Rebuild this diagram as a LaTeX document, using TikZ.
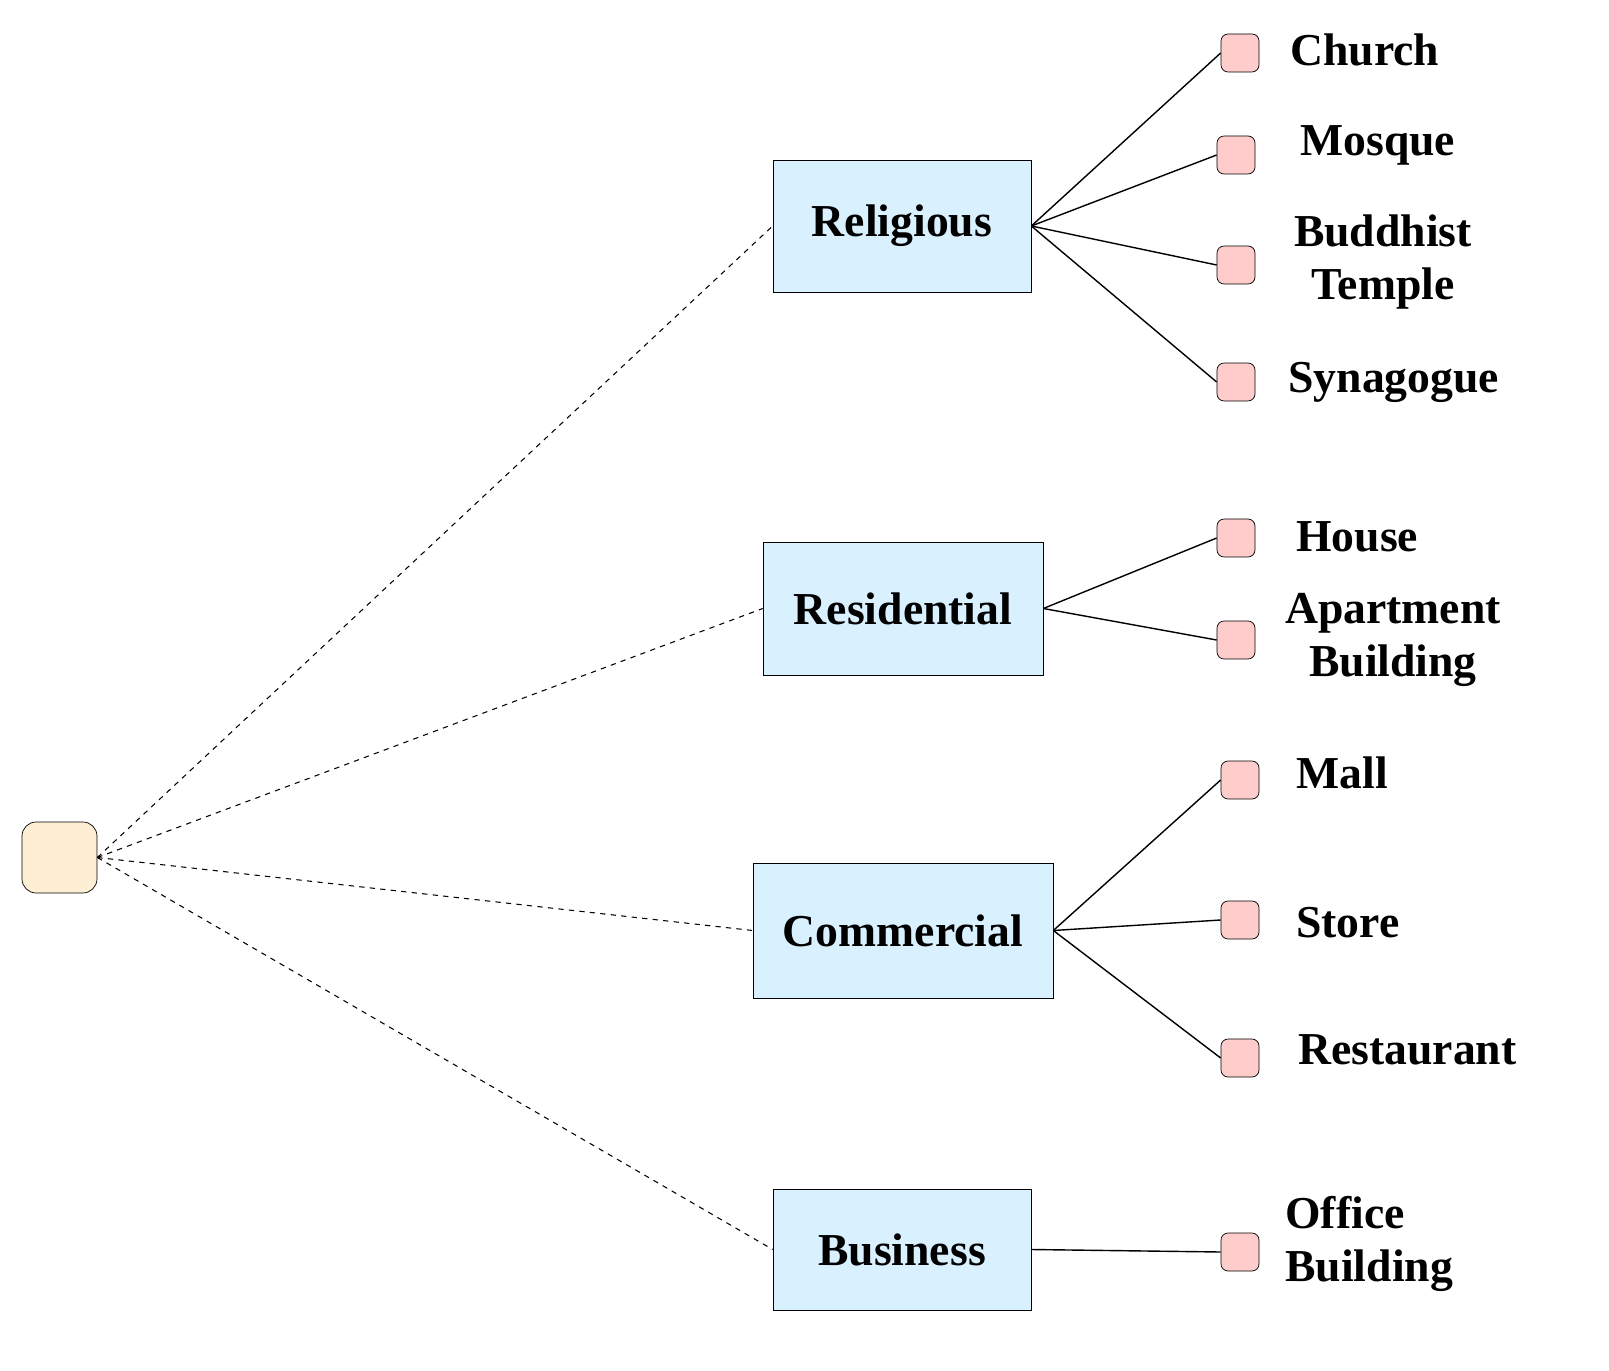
\documentclass[tikz,border=0pt]{standalone}
\usepackage{fontspec}
\setmainfont{Liberation Serif}
\begin{document}
\begin{tikzpicture}[x=0.02cm,y=-0.02cm,
    root style/.style={draw, rounded corners=8pt, fill=yellow!25!orange!15, minimum width=1.5cm, minimum height=1.42cm},
    cat style/.style={draw, fill=blue!40!cyan!15, font=\fontsize{26}{30}\selectfont\bfseries, inner sep=0pt},
    leaf style/.style={draw, rounded corners=4pt, fill=red!20, minimum size=0.76cm, inner sep=0pt},
    label style/.style={font=\fontsize{26}{30}\selectfont\bfseries, inner sep=0pt},
    dashed path style/.style={dashed, line width=0.6pt},
    path style/.style={line width=0.8pt}
]
\useasboundingbox (0,0) rectangle (1609,1371);

% Root and categories
\node[root style] (root) at (59.5,857.5) {};
\node[cat style, minimum width=5.16cm, minimum height=2.64cm] (relig) at (902,226) {Religious};
\node[cat style, minimum width=5.6cm, minimum height=2.66cm] (resid) at (903,608.5) {Residential};
\node[cat style, minimum width=6cm, minimum height=2.7cm] (comm) at (903,930.5) {Commercial};
\node[cat style, minimum width=5.16cm, minimum height=2.42cm] (busi) at (902,1249.5) {Business};

% Leaves
\node[leaf style] (church) at (1240,53) {};
\node[leaf style] (mosque) at (1236,155) {};
\node[leaf style] (buddh) at (1236,265) {};
\node[leaf style] (syna) at (1236,382) {};
\node[leaf style] (house) at (1236,538) {};
\node[leaf style] (apart) at (1236,640) {};
\node[leaf style] (mall) at (1240,780) {};
\node[leaf style] (store) at (1240,920) {};
\node[leaf style] (rest) at (1240,1058) {};
\node[leaf style] (office) at (1240,1252) {};

% Leaf labels
\node[label style, anchor=west] (lchurch) at (1290,50) {Church};
\node[label style, anchor=west] (lmosque) at (1300,145) {Mosque};
\node[label style, align=center] (lbuddh) at (1383,262) {Buddhist\\Temple};
\node[label style, anchor=west] (lsyna) at (1288,382) {Synagogue};
\node[label style, anchor=west] (lhouse) at (1296,537) {House};
\node[label style, align=center] (lapart) at (1393,640) {Apartment\\Building};
\node[label style, anchor=west] (lmall) at (1296,773) {Mall};
\node[label style, anchor=west] (lstore) at (1296,923) {Store};
\begin{scope}
\clip (1280,1000) rectangle (1522,1100);
\node[label style, anchor=west] (lrest) at (1298,1050) {Restaurant};
\end{scope}
\node[label style, align=left, anchor=west] (loffice) at (1285,1244) {Office\\Building};

% Dashed connectors
\foreach \c in {relig,resid,comm,busi}
  \draw[dashed path style] (root.east) -- (\c.west);

% Solid connectors
\foreach \c/\l in {relig/church,relig/mosque,relig/buddh,relig/syna,resid/house,resid/apart,comm/mall,comm/store,comm/rest,busi/office}
  \draw[path style] (\c.east) -- (\l.west);
\end{tikzpicture}
\end{document}
